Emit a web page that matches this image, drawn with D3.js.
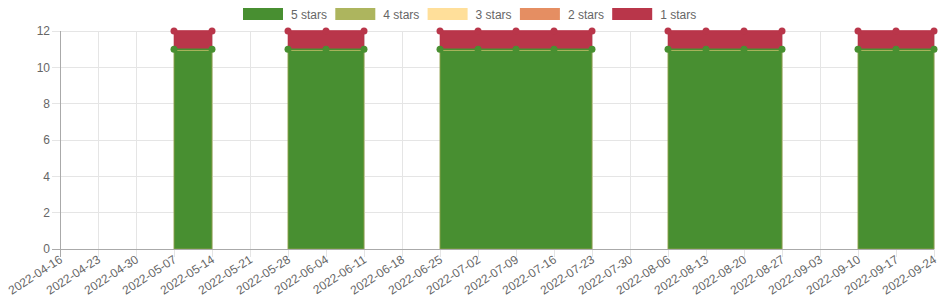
<!DOCTYPE html>
<html>
<head>
<meta charset="utf-8">
<title>Ratings per week</title>
<script src="https://d3js.org/d3.v7.min.js"></script>
<style>
  body { margin: 0; background: #fff; }
  text { font-family: "Liberation Sans", Arial, Helvetica, sans-serif; font-size: 12px; fill: #666; }
</style>
</head>
<body>
<svg width="940" height="300"></svg>
<script>
// weekly dates
var dates = ["2022-04-16","2022-04-23","2022-04-30","2022-05-07","2022-05-14","2022-05-21",
  "2022-05-28","2022-06-04","2022-06-11","2022-06-18","2022-06-25","2022-07-02",
  "2022-07-09","2022-07-16","2022-07-23","2022-07-30","2022-08-06","2022-08-13",
  "2022-08-20","2022-08-27","2022-09-03","2022-09-10","2022-09-17","2022-09-24"];

// null = no data that week (gap)
var fiveStars  = [null,null,null,11,11,null,11,11,11,null,11,11,11,11,11,null,11,11,11,11,null,11,11,11];
var fourStars  = [null,null,null,0,0,null,0,0,0,null,0,0,0,0,0,null,0,0,0,0,null,0,0,0];
var threeStars = [null,null,null,0,0,null,0,0,0,null,0,0,0,0,0,null,0,0,0,0,null,0,0,0];
var twoStars   = [null,null,null,0,0,null,0,0,0,null,0,0,0,0,0,null,0,0,0,0,null,0,0,0];
var oneStar    = [null,null,null,1,1,null,1,1,1,null,1,1,1,1,1,null,1,1,1,1,null,1,1,1];

var yTicks = [0, 2, 4, 6, 8, 10, 12];

var seriesNames = ["5 stars", "4 stars", "3 stars", "2 stars", "1 stars"];
var seriesColors = ["#488f31", "#adb55e", "#ffdf9a", "#e58e62", "#b9364a"];
var seriesData = [fiveStars, fourStars, threeStars, twoStars, oneStar];

var margin = {top: 31, right: 6, bottom: 51, left: 60},
    width = 940 - margin.left - margin.right,
    height = 300 - margin.top - margin.bottom;

var svg = d3.select("svg");
var g = svg.append("g").attr("transform", "translate(" + margin.left + "," + margin.top + ")");

var x = d3.scalePoint().domain(dates).range([0, width]);
var y = d3.scaleLinear().domain([0, 12]).range([height, 0]);

// grid
g.selectAll(".vgrid").data(dates).enter().append("line")
  .attr("x1", function(d) { return x(d); }).attr("x2", function(d) { return x(d); })
  .attr("y1", 0).attr("y2", height + 8)
  .style("stroke", "#e5e5e5").style("shape-rendering", "crispEdges");
g.selectAll(".hgrid").data(yTicks).enter().append("line")
  .attr("x1", -8).attr("x2", width)
  .attr("y1", function(d) { return y(d); }).attr("y2", function(d) { return y(d); })
  .style("stroke", "#e5e5e5").style("shape-rendering", "crispEdges");

// stacked values
var stacked = [];
var base = dates.map(function() { return 0; });
seriesData.forEach(function(arr) {
  var layer = arr.map(function(v, i) {
    if (v == null) return null;
    var lo = base[i], hi = base[i] + v;
    base[i] = hi;
    return {date: dates[i], y0: lo, y1: hi};
  });
  stacked.push(layer);
});

var area = d3.area()
  .defined(function(d) { return d != null; })
  .x(function(d) { return x(d.date); })
  .y0(function(d) { return y(d.y0); })
  .y1(function(d) { return y(d.y1); });

var line = d3.line()
  .defined(function(d) { return d != null; })
  .x(function(d) { return x(d.date); })
  .y(function(d) { return y(d.y1); });

stacked.forEach(function(layer, k) {
  g.append("path").datum(layer)
    .attr("d", area)
    .style("fill", seriesColors[k])
    .style("stroke", k == 0 ? "#8ea04a" : seriesColors[k])
    .style("stroke-opacity", k == 0 ? 0.9 : 0.6)
    .style("stroke-width", 1);
});

// 4 stars border sits on top of the 5 stars area
g.append("path").datum(stacked[1].map(function(d) { return d ? {date: d.date, y1: d.y1 - 0.07} : null; }))
  .attr("d", line).style("fill", "none").style("stroke", "#adb55e").style("stroke-width", 1);

stacked.forEach(function(layer, k) {
  if (k != 0 && k != 4) return;
  g.append("path").datum(layer)
    .attr("d", line).style("fill", "none")
    .style("stroke", seriesColors[k]).style("stroke-width", 1.5);
  g.selectAll(".pt" + k).data(layer.filter(function(d) { return d != null; })).enter()
    .append("circle")
    .attr("cx", function(d) { return x(d.date); })
    .attr("cy", function(d) { return y(d.y1); })
    .attr("r", 3.5)
    .style("fill", seriesColors[k]);
});

// axes
g.append("line").attr("x1", 0).attr("x2", 0).attr("y1", 0).attr("y2", height)
  .style("stroke", "#aaa").style("shape-rendering", "crispEdges");
g.append("line").attr("x1", -8).attr("x2", width).attr("y1", height).attr("y2", height)
  .style("stroke", "#aaa").style("shape-rendering", "crispEdges");
g.append("line").attr("x1", 0).attr("x2", 0).attr("y1", height).attr("y2", height + 8)
  .style("stroke", "#aaa").style("shape-rendering", "crispEdges");

g.selectAll(".ylab").data(yTicks).enter().append("text")
  .attr("x", -10).attr("y", function(d) { return y(d); })
  .attr("dy", "0.35em").attr("text-anchor", "end")
  .text(function(d) { return d; });

g.selectAll(".xlab").data(dates).enter().append("text")
  .attr("text-anchor", "end")
  .attr("transform", function(d) { return "translate(" + (x(d) + 1) + "," + (height + 9) + ") rotate(-33)"; })
  .attr("dy", "0.35em")
  .text(function(d) { return d; });

// legend
var legend = svg.append("g").attr("transform", "translate(243,8)");
seriesNames.forEach(function(name, k) {
  var item = legend.append("g").attr("transform", "translate(" + (k * 92.3) + ",0)");
  item.append("rect").attr("width", 40).attr("height", 12)
    .style("fill", seriesColors[k]);
  item.append("text").attr("x", 48).attr("y", 11).text(name);
});
</script>
</body>
</html>
